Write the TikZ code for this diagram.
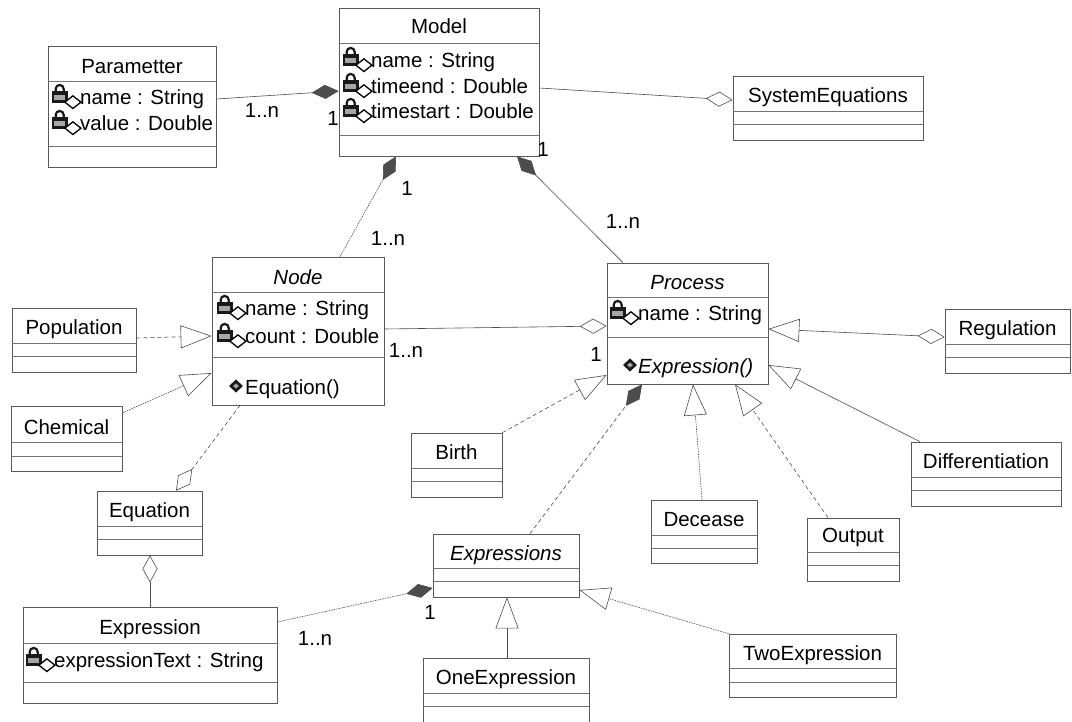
\documentclass[tikz,border=0pt]{standalone}
\usepackage{fontspec}
\setmainfont{Liberation Sans}
\usetikzlibrary{arrows.meta,fit}

\tikzset{
  box/.style={draw=black!65, line width=0.7pt, inner sep=0pt, fill=white},
  sepline/.style={draw=black!55, line width=0.6pt},
  txt/.style={anchor=base, inner sep=0pt, font=\fontsize{20.5}{24}\selectfont},
  ltxt/.style={txt, anchor=base west},
  link/.style={draw=black!70, line width=0.6pt},
  dlink/.style={link, dash pattern=on 4pt off 3pt},
  dotlink/.style={link, dash pattern=on 1.5pt off 1pt},
  gen/.style={-{Triangle[open, length=31pt, width=23pt]}},
  agg/.style={-{Diamond[open, length=27pt, width=15pt]}},
  comp/.style={-{Diamond[length=27pt, width=14pt]}},
  % private attribute icon: padlock with a hollow diamond
  lockicon/.pic={
    \begin{scope}[scale=1.15]
    \draw[black!90, line width=2.2pt] (-9pt,4pt) -- (-9pt,7pt)
      arc[start angle=180, end angle=0, radius=3.5pt] -- (-2pt,4pt);
    \fill[black!90] (-12.5pt,-5pt) rectangle (1.5pt,5pt);
    \fill[black!35] (-10.5pt,-2.5pt) rectangle (-0.5pt,1.5pt);
    \draw[black, line width=1.3pt, fill=white]
      (-1pt,-4.5pt) -- (6pt,1pt) -- (13pt,-4.5pt) -- (6pt,-10pt) -- cycle;
    \end{scope}
  },
  % operation icon
  opicon/.pic={
    \fill[black!90] (0pt,6.5pt) -- (7pt,0pt) -- (0pt,-6.5pt) -- (-7pt,0pt) -- cycle;
    \fill[black!35] (0pt,2.5pt) -- (3pt,0pt) -- (0pt,-2.5pt) -- (-3pt,0pt) -- cycle;
  },
}

% class box: name, x1, y1, x2, y2, first separator, second separator
\newcommand\umlbox[7]{%
  \node[box, fit={(#2,#3) (#4,#5)}] (#1) {};
  \draw[sepline] (#1.west |- 0,#6) -- (#1.east |- 0,#6);
  \draw[sepline] (#1.west |- 0,#7) -- (#1.east |- 0,#7);
}

\begin{document}
\begin{tikzpicture}[x=1pt, y=-1pt]
\useasboundingbox (0,0) rectangle (1072,721);
\fill[white] (0,0) rectangle (1072,721);
\clip (0,0) rectangle (1072,721);

% ---------- classes ----------
\umlbox{param}{48}{46}{216}{167}{81}{146}
\node[txt] (param-t) at (132,73) {Parametter};
\pic at (66,97) {lockicon};
\node[ltxt] (param-a1) at (80,104) {name : String};
\pic at (66,123) {lockicon};
\node[ltxt] (param-a2) at (80,130) {value : Double};

\umlbox{model}{339}{8}{539}{156}{43}{135}
\node[txt] (model-t) at (439,33) {Model};
\pic at (357,60) {lockicon};
\node[ltxt] (model-a1) at (371,67) {name : String};
\pic at (357,86) {lockicon};
\node[ltxt] (model-a2) at (371,93) {timeend : Double};
\pic at (357,111) {lockicon};
\node[ltxt] (model-a3) at (371,118) {timestart : Double};

\umlbox{syseq}{733}{76}{923}{140}{111}{124}
\node[txt] (syseq-t) at (828,102) {SystemEquations};

\umlbox{node}{212}{257}{384}{405}{292}{357}
\node[txt] (node-t) at (298,284) {\itshape Node};
\pic at (231,308) {lockicon};
\node[ltxt] (node-a1) at (245,315) {name : String};
\pic at (231,336) {lockicon};
\node[ltxt] (node-a2) at (245,343) {count : Double};
\pic at (236,386) {opicon};
\node[ltxt] (node-o1) at (245,394) {Equation()};

\umlbox{process}{607}{263}{768}{384}{297}{337}
\node[txt] (process-t) at (687.5,289) {\itshape Process};
\pic at (624,313) {lockicon};
\node[ltxt] (process-a1) at (638,320) {name : String};
\pic at (630,365) {opicon};
\node[ltxt] (process-o1) at (638,373) {\itshape Expression()};

\umlbox{population}{12}{308}{136}{372}{343}{356}
\node[txt] (population-t) at (74,334) {Population};

\umlbox{chemical}{11}{406}{122}{471}{442}{456}
\node[txt] (chemical-t) at (66.5,434) {Chemical};

\umlbox{regulation}{945}{309}{1070}{373}{344}{357}
\node[txt] (regulation-t) at (1007.5,335) {Regulation};

\umlbox{birth}{411}{433}{502}{497}{468}{481}
\node[txt] (birth-t) at (456.5,459) {Birth};

\umlbox{decease}{651}{500}{757}{563}{535}{548}
\node[txt] (decease-t) at (704,526) {Decease};

\umlbox{output}{807}{518}{899}{581}{552}{565}
\node[txt] (output-t) at (853,542) {Output};

\umlbox{diff}{911}{442}{1061}{506}{477}{490}
\node[txt] (diff-t) at (986,468) {Differentiation};

\umlbox{equation}{97}{491}{202}{555}{526}{539}
\node[txt] (equation-t) at (149.5,517) {Equation};

\umlbox{expressions}{433}{534}{579}{597}{568}{581}
\node[txt] (expressions-t) at (506,560) {\itshape Expressions};

\umlbox{expression}{23}{607}{277}{703}{643}{682}
\node[txt] (expression-t) at (150,634) {Expression};
\pic at (40,660) {lockicon};
\node[ltxt] (expression-a1) at (54,667) {expressionText : String};

\umlbox{oneexp}{423}{658}{589}{740}{693}{706}
\node[txt] (oneexp-t) at (506,684) {OneExpression};

\umlbox{twoexp}{729}{634}{896}{697}{668}{682}
\node[txt] (twoexp-t) at (812.5,660) {TwoExpression};

% ---------- associations ----------
\draw[link, comp] (param.east |- 0,99) -- (model.west |- 0,91);
\draw[link, agg] (model.east |- 0,88) -- (syseq.west |- 0,100);
\draw[dotlink, comp] (node.north -| 340,0) -- (model.south -| 396,0);
\draw[link, comp] (process.north -| 623,0) -- (model.south -| 517,0);
\draw[link, agg] (node.east |- 0,329) -- (process.west |- 0,326);
\draw[dlink, agg] (node.south -| 240,0) -- (equation.north -| 176,0);
\draw[link, agg] (expression.north -| 150,0) -- (equation.south -| 150,0);
\draw[dotlink, comp] (expression.east |- 0,622) -- (expressions.west |- 0,588);
\draw[dlink, comp] (expressions.north -| 530,0) -- (process.south -| 642,0);
\draw[link, {Diamond[open, length=27pt, width=15pt]}-{Triangle[open, length=31pt, width=23pt]}]
  (regulation.west |- 0,337) -- (process.east |- 0,329);

% ---------- generalizations ----------
\draw[dlink, gen] (population.east |- 0,338) -- (node.west |- 0,336);
\draw[dotlink, gen] (chemical.east |- 0,413) -- (node.west |- 0,373);
\draw[dlink, gen] (birth.north east) -- (process.west |- 0,375);
\draw[dotlink, gen] (decease.north -| 702,0) -- (process.south -| 693,0);
\draw[dlink, gen] (output.north -| 828,0) -- (process.south -| 735,0);
\draw[link, gen] (diff.north -| 920,0) -- (process.east |- 0,365);
\draw[link, gen] (oneexp.north -| 507,0) -- (expressions.south -| 507,0);
\draw[dotlink, gen] (twoexp.north west) -- (expressions.east |- 0,590);

% ---------- multiplicities ----------
\node[txt] (m1) at (262,117) {1..n};
\node[txt] (m2) at (333,125) {1};
\node[txt] (m3) at (407,195) {1};
\node[txt] (m4) at (388,245) {1..n};
\node[txt] (m5) at (623,228) {1..n};
\node[txt] (m6) at (543,156) {1};
\node[txt] (m7) at (406,357) {1..n};
\node[txt] (m8) at (596,361) {1};
\node[txt] (m9) at (315,645) {1..n};
\node[txt] (m10) at (430,619) {1};
\end{tikzpicture}
\end{document}
